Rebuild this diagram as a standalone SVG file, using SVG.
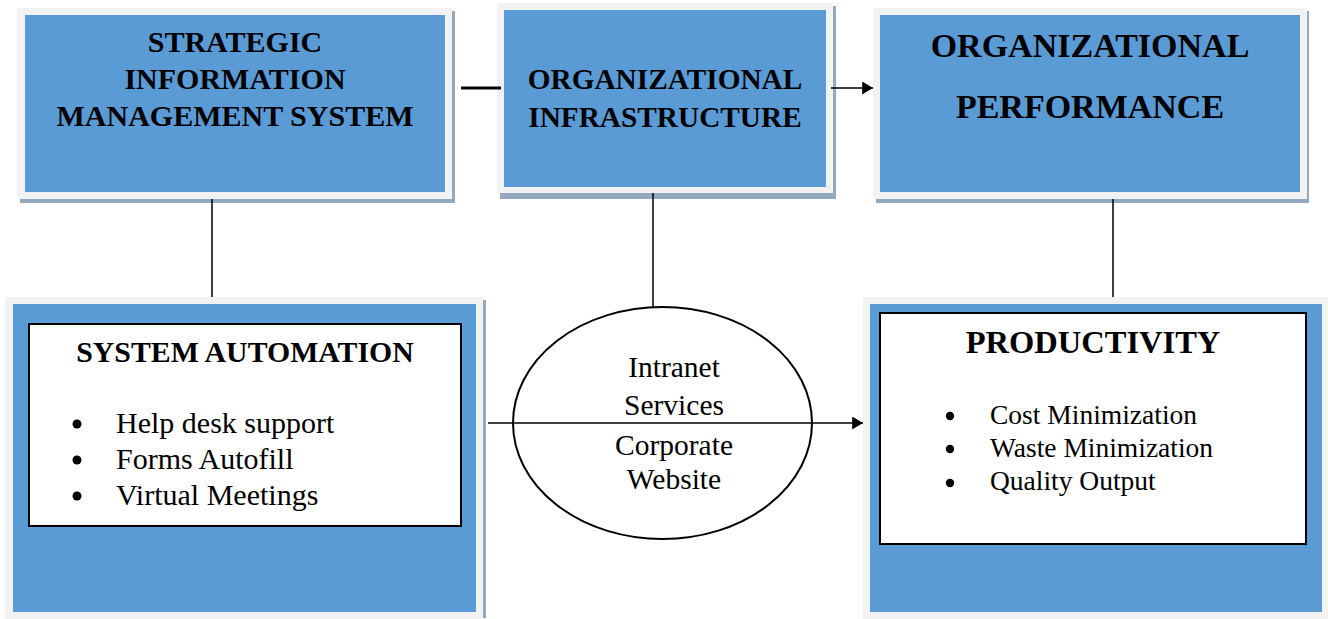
<svg xmlns="http://www.w3.org/2000/svg" width="1328" height="619" viewBox="0 0 1328 619">
  <defs>
    <marker id="arrowhead-lg" viewBox="0 0 10 12" refX="10" refY="6" markerWidth="11" markerHeight="13" markerUnits="userSpaceOnUse" orient="auto">
      <path d="M0,0 L10,6 L0,12 z" fill="#000"/>
    </marker>
  </defs>
  <style>
    .shadow { fill: #93A9BF; }
    .frame { fill: #F2F2F2; }
    .panel { fill: #5B9BD5; }
    .card { fill: #FFFFFF; stroke: #000; stroke-width: 2; }
    .title { font-family: "Liberation Serif", "Times New Roman", serif; font-weight: bold; fill: #000; text-anchor: middle; }
    .body { font-family: "Liberation Serif", "Times New Roman", serif; fill: #000; }
    .line { stroke: #000; stroke-width: 1.5; fill: none; }
    .line.heavy { stroke-width: 3; }
  </style>

  <rect width="1328" height="619" fill="#FFFFFF"/>

  <!-- Strategic information management system -->
  <g id="sims">
    <rect class="shadow" x="20" y="11" width="435" height="192"/>
    <rect class="frame" x="17" y="8" width="435" height="191"/>
    <rect class="panel" x="25" y="15" width="420" height="177"/>
    <text class="title" font-size="30" x="235" y="52">STRATEGIC</text>
    <text class="title" font-size="30" x="235" y="89">INFORMATION</text>
    <text class="title" font-size="30" x="235" y="126">MANAGEMENT SYSTEM</text>
  </g>

  <!-- Organizational infrastructure -->
  <g id="infrastructure">
    <rect class="shadow" x="500" y="6" width="336" height="193"/>
    <rect class="frame" x="497" y="3" width="336" height="190"/>
    <rect class="panel" x="504" y="10" width="322" height="177"/>
    <text class="title" font-size="29.3" x="665" y="89">ORGANIZATIONAL</text>
    <text class="title" font-size="29.3" x="665" y="127">INFRASTRUCTURE</text>
  </g>

  <!-- Organizational performance -->
  <g id="performance">
    <rect class="shadow" x="876" y="11" width="433" height="192"/>
    <rect class="frame" x="873" y="8" width="434" height="191"/>
    <rect class="panel" x="880" y="15" width="420" height="177"/>
    <text class="title" font-size="34" x="1090" y="57">ORGANIZATIONAL</text>
    <text class="title" font-size="34" x="1090" y="118">PERFORMANCE</text>
  </g>

  <!-- System automation -->
  <g id="automation">
    <rect class="shadow" x="8" y="300" width="478" height="318"/>
    <rect class="frame" x="5" y="297" width="478" height="322"/>
    <rect class="panel" x="13" y="304" width="463" height="308"/>
    <rect class="card" x="29" y="324" width="432" height="202"/>
    <text class="title" font-size="29.8" x="245" y="362">SYSTEM AUTOMATION</text>
    <g class="body" font-size="30">
      <circle cx="77" cy="424" r="4.5"/>
      <circle cx="77" cy="460" r="4.5"/>
      <circle cx="77" cy="496" r="4.5"/>
      <text x="116" y="433">Help desk support</text>
      <text x="116" y="469">Forms Autofill</text>
      <text x="116" y="505">Virtual Meetings</text>
    </g>
  </g>

  <!-- Intranet services / corporate website -->
  <g id="intranet">
    <ellipse cx="662.5" cy="423" rx="149.5" ry="116" fill="#FFFFFF" stroke="#000" stroke-width="2"/>
    <g class="body" font-size="29.5" text-anchor="middle">
      <text x="674" y="377">Intranet</text>
      <text x="674" y="415">Services</text>
      <text x="674" y="455">Corporate</text>
      <text x="674" y="489">Website</text>
    </g>
  </g>

  <!-- Productivity -->
  <g id="productivity">
    <rect class="frame" x="863" y="297" width="465" height="322"/>
    <rect class="panel" x="870" y="304" width="452" height="308"/>
    <rect class="card" x="880" y="313" width="426" height="231"/>
    <text class="title" font-size="32.5" x="1093" y="353">PRODUCTIVITY</text>
    <g class="body" font-size="27.5">
      <circle cx="950" cy="416" r="4.2"/>
      <circle cx="950" cy="449" r="4.2"/>
      <circle cx="950" cy="483" r="4.2"/>
      <text x="990" y="424">Cost Minimization</text>
      <text x="990" y="457">Waste Minimization</text>
      <text x="990" y="490">Quality Output</text>
    </g>
  </g>

  <!-- Connectors -->
  <g id="connectors">
    <line class="line heavy" x1="461" y1="88" x2="501" y2="88"/>
    <line class="line" x1="831" y1="88" x2="873" y2="88" marker-end="url(#arrowhead-lg)"/>
    <line class="line" x1="212" y1="199" x2="212" y2="297"/>
    <line class="line" x1="653" y1="193" x2="653" y2="307"/>
    <line class="line" x1="1113" y1="199" x2="1113" y2="297"/>
    <line class="line" x1="488" y1="423" x2="863" y2="423" marker-end="url(#arrowhead-lg)"/>
  </g>
</svg>
